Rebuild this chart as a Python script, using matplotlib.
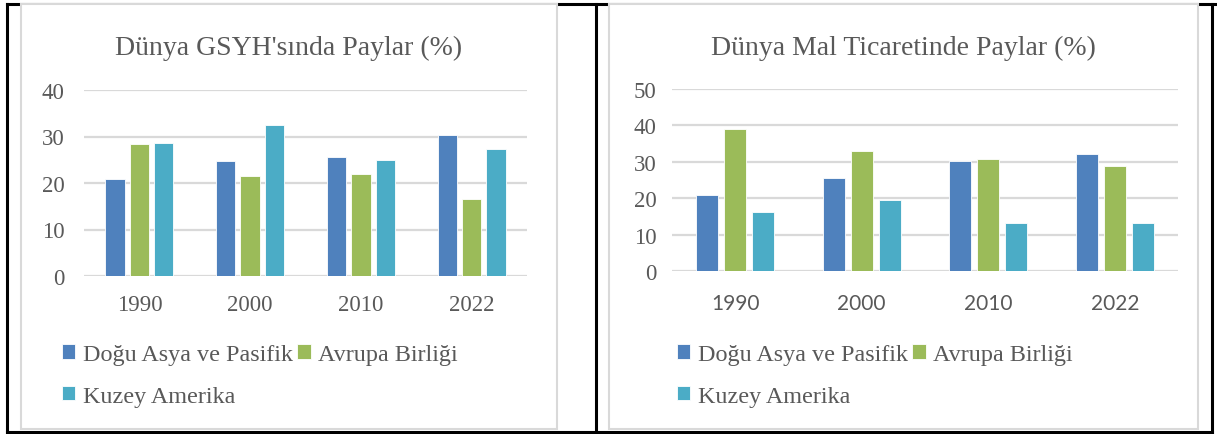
import numpy as np
import matplotlib.pyplot as plt
from matplotlib.patches import Rectangle
from matplotlib.lines import Line2D

# veriler
yillar = ["1990", "2000", "2010", "2022"]
seriler = ["Doğu Asya ve Pasifik", "Avrupa Birliği", "Kuzey Amerika"]

gsyh_dogu_asya = [20.8, 24.7, 25.5, 30.4]
gsyh_ab = [28.3, 21.4, 21.9, 16.6]
gsyh_kuzey_amerika = [28.6, 32.5, 25.0, 27.4]

ticaret_dogu_asya = [20.8, 25.6, 30.1, 32.1]
ticaret_ab = [39.0, 33.0, 30.8, 28.9]
ticaret_kuzey_amerika = [16.3, 19.5, 13.2, 13.2]

renkler = ["#4F81BD", "#9BBB59", "#4BACC6"]
yazi_rengi = "#595959"
izgara = "#D9D9D9"

W, H = 1217, 435
fig = plt.figure(figsize=(W / 100, H / 100), dpi=100)


def px(x, y):
    return x / W, 1 - y / H


def kutu(x0, y0, x1, y1, **kw):
    fig.patches.append(Rectangle(px(x0, y1), (x1 - x0) / W, (y1 - y0) / H,
                                 transform=fig.transFigure, **kw))


def cizgi(xs, ys):
    fig.add_artist(Line2D([x / W for x in xs], [1 - y / H for y in ys],
                          color="black", lw=2.2, zorder=0))


# tablo cizgileri
cizgi([7, 1217], [5, 5])
cizgi([7, 7], [5, 433])
cizgi([596, 596], [5, 433])
cizgi([1212, 1212], [5, 433])
cizgi([7, 1212], [433, 433])

# grafik kutulari
kutu(21, 5, 557, 430, facecolor="white", edgecolor=izgara, lw=1.5, zorder=1)
kutu(609, 5, 1198, 430, facecolor="white", edgecolor=izgara, lw=1.5, zorder=1)


def grafik(rect, degerler, ymax, baslik, bx, xfont, xsize, ypad, xpad, legx):
    l, t, r, b = rect
    ax = fig.add_axes([l / W, 1 - b / H, (r - l) / W, (b - t) / H])
    ax.set_zorder(2)
    ax.patch.set_visible(False)
    x = np.arange(len(yillar))
    for i, (vals, c) in enumerate(zip(degerler, renkler)):
        ax.bar(x + (i - 1) * 0.22, vals, 0.175, color=c, edgecolor="white",
               lw=0.6, label=seriler[i], zorder=3)
    ax.set_xlim(-0.5, len(yillar) - 0.5)
    ax.set_ylim(0, ymax)
    ax.set_yticks(np.arange(0, ymax + 1, 10))
    ax.set_xticks(x)
    ax.set_xticklabels(yillar, family=xfont, fontsize=xsize, color=yazi_rengi)
    for lab in ax.get_yticklabels():
        lab.set_family("Liberation Serif")
        lab.set_fontsize(16.5)
        lab.set_color(yazi_rengi)
    ax.tick_params(length=0)
    ax.tick_params(axis="y", pad=ypad)
    ax.tick_params(axis="x", pad=xpad)
    ax.grid(axis="y", color=izgara, lw=1.6, zorder=0)
    ax.set_axisbelow(True)
    for s in ax.spines.values():
        s.set_visible(False)
    fig.text(*px(bx, 48), baslik, ha="center", va="center",
             family="Liberation Serif", fontsize=20, color=yazi_rengi)
    h, lb = ax.get_legend_handles_labels()
    sira = [0, 2, 1]  # satir duzeni: Dogu Asya, AB / Kuzey Amerika
    leg = fig.legend([h[k] for k in sira], [lb[k] for k in sira], ncol=2,
                     loc="upper left", bbox_to_anchor=px(legx, 345),
                     frameon=False, handlelength=0.55, handleheight=0.55,
                     handletextpad=0.3, columnspacing=0.2, labelspacing=0.85,
                     borderpad=0, borderaxespad=0,
                     prop={"family": "Liberation Serif", "size": 17.4})
    for txt in leg.get_texts():
        txt.set_color(yazi_rengi)
    leg.set_zorder(3)
    return ax


grafik((84, 91, 527, 277), [gsyh_dogu_asya, gsyh_ab, gsyh_kuzey_amerika], 40,
       "Dünya GSYH'sında Paylar (%)", 289, "Liberation Serif", 16.5, 14, 13, 62)
grafik((672, 90, 1178, 272), [ticaret_dogu_asya, ticaret_ab, ticaret_kuzey_amerika], 50,
       "Dünya Mal Ticaretinde Paylar (%)", 903, "Lato", 15, 11, 16, 677)

fig.savefig("out.png", dpi=100)
